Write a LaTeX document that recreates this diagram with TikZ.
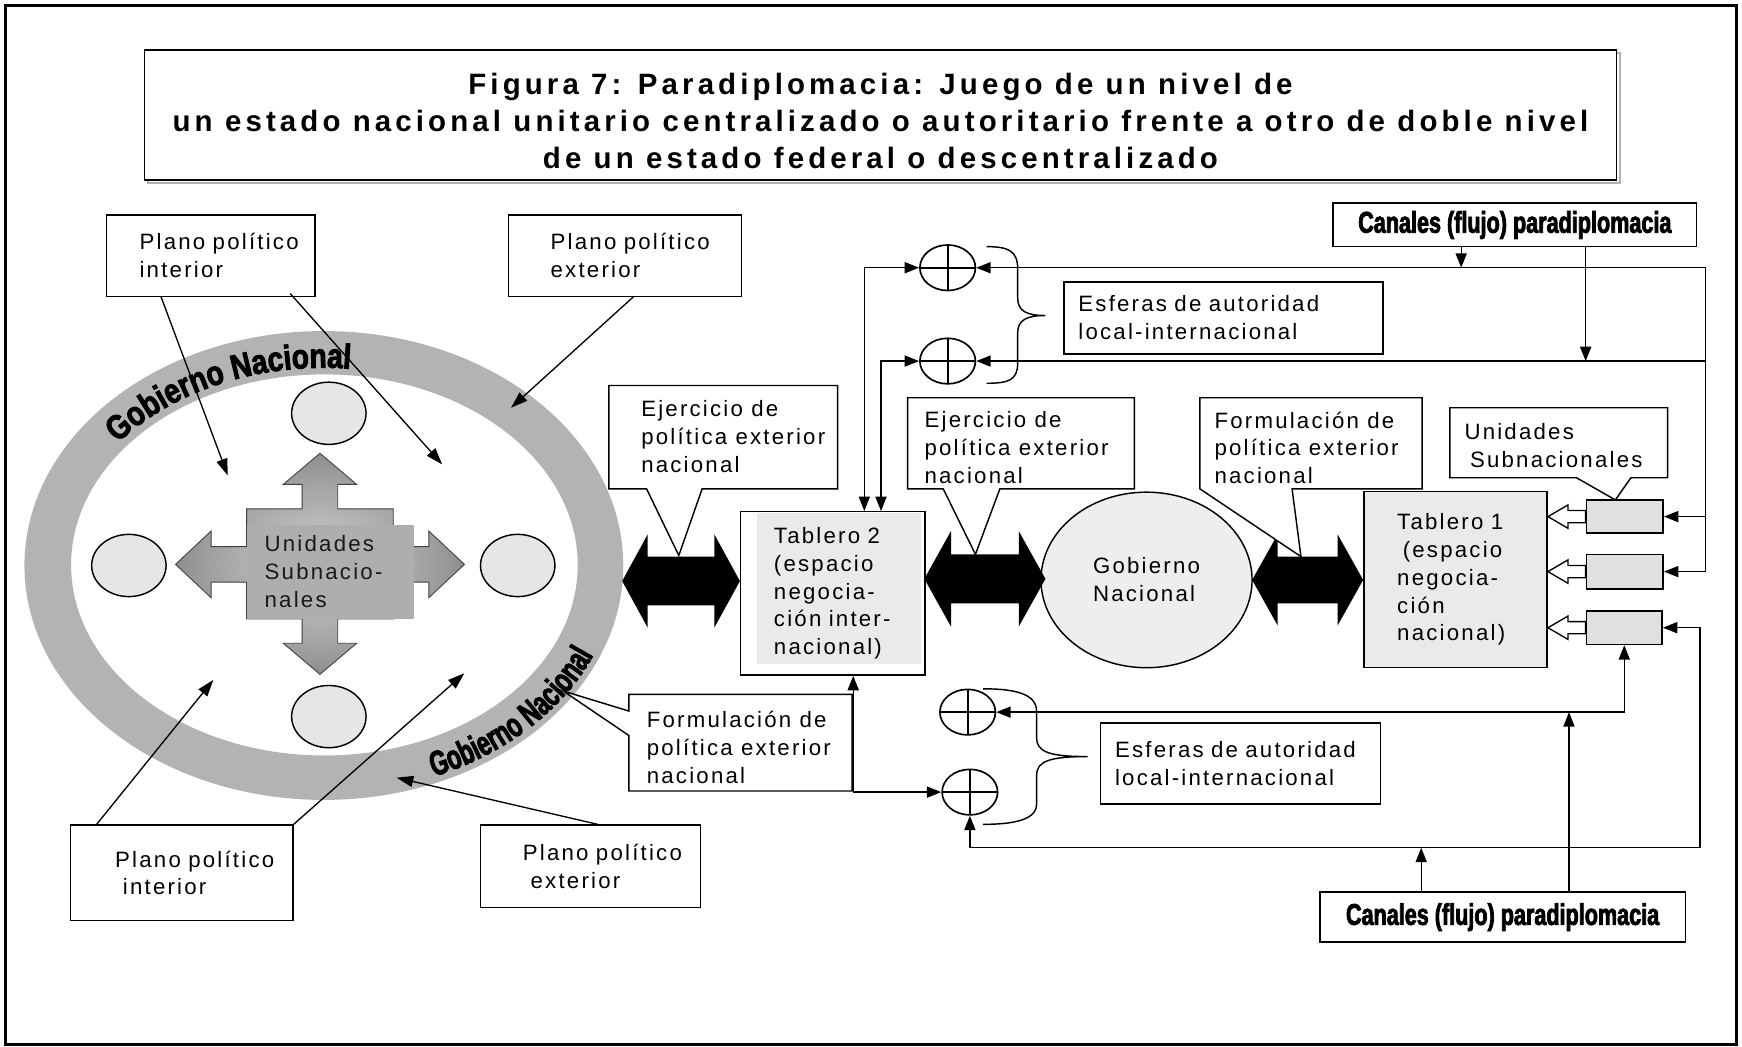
\documentclass[tikz,border=0pt]{standalone}
\usepackage{fontspec}
\setmainfont{Liberation Sans}[LetterSpace=10]
\newfontfamily\titlefont{Liberation Sans}[LetterSpace=14]
\newfontfamily\heavyfont{Liberation Sans}[FakeStretch=0.72,BoldFeatures={FakeBold=2.5}]
\newfontfamily\ringfontA{Liberation Sans}[FakeStretch=0.82,BoldFeatures={FakeBold=2.5}]
\newfontfamily\ringfontB{Liberation Sans}[FakeStretch=0.67,BoldFeatures={FakeBold=2.5}]
\usetikzlibrary{arrows.meta,decorations.text,calc,shapes.geometric}
\newcommand\ringfmtA{\ringfontA\bfseries\fontsize{31}{31}\selectfont}
\newcommand\ringfmtB{\ringfontB\bfseries\fontsize{31}{31}\selectfont}
\definecolor{ringgray}{HTML}{B3B3B3}
\definecolor{dotfill}{HTML}{E6E6E6}
\definecolor{tabfill}{HTML}{EAEAEA}
\definecolor{subfill}{HTML}{E0E0E0}
\definecolor{gobfill}{HTML}{EEEEEE}
\definecolor{unifill}{HTML}{AEAEAE}
\pgfdeclareradialshading{crossshade}{\pgfpoint{0bp}{0bp}}{color(0bp)=(black!18); color(20bp)=(black!38); color(50bp)=(black!78)}
\begin{document}
\begin{tikzpicture}[x=1pt,y=-1pt,
  txt/.style={inner sep=0pt, align=left, font=\fontsize{20}{25}\selectfont},
  tbox/.style={draw, line width=1.3pt, fill=white, inner sep=0pt, anchor=north west, align=left, font=\fontsize{20}{25}\selectfont},
  callout/.style={draw, line width=1.3pt, fill=white},
  arr/.style={line width=1.3pt, -{Triangle[length=13pt,width=10pt]}},
  arrs/.style={line width=1.3pt, {Triangle[length=13pt,width=10pt]}-{Triangle[length=13pt,width=10pt]}},
  parr/.style={line width=1.2pt, -{Triangle[length=15pt,width=10pt]}},
  oplus/.style={ellipse, draw, line width=1.5pt, minimum width=50pt, minimum height=41pt, inner sep=0pt,
     path picture={\draw[line width=1.5pt] (path picture bounding box.north) -- (path picture bounding box.south) (path picture bounding box.west) -- (path picture bounding box.east);}},
  smallcirc/.style={ellipse, draw, line width=1.3pt, fill=dotfill, minimum width=67pt, minimum height=56pt, inner sep=0pt},
  subbox/.style={draw, line width=1.5pt, fill=subfill, inner sep=0pt},
  heavybox/.style={draw, line width=1.5pt, fill=white, inner sep=0pt, font=\heavyfont\bfseries\fontsize{27}{27}\selectfont},
  hollow/.style={draw, fill=white, line width=1.2pt},
]
\useasboundingbox (0,0) rectangle (1568,942);
\fill[white] (0,0) rectangle (1568,942);
\draw[line width=3pt] (5,5) rectangle (1563,940);

% title
\draw[gray!60, line width=1.5pt] (133,48) rectangle (1458,165);
\node[draw, line width=1.5pt, fill=white, minimum width=1325pt, minimum height=117pt, inner sep=0pt] (title) at (792.5,103.5) {};
\node[inner sep=0pt, align=center, font=\titlefont\bfseries\fontsize{26.5}{33.5}\selectfont] (titletext) at (792.5,109)
  {Figura 7: Paradiplomacia: Juego de un nivel de\\un estado nacional unitario centralizado o autoritario frente a otro de doble nivel\\de un estado federal o descentralizado};

% ring
\fill[ringgray, even odd rule] (291.5,509) ellipse [x radius=269.5, y radius=211] (292,508.5) ellipse [x radius=228, y radius=171.5];
\path[decorate, decoration={text along path, text={|\ringfmtA|Gobierno Nacional}, text align=center}]
  ($(291.5,509)+(195:236 and 178)$) arc[start angle=195, end angle=295, x radius=236, y radius=178];
\path[decorate, decoration={text along path, text={|\ringfmtB|Gobierno Nacional}, text align=center}]
  ($(291.5,509)+(88:264 and 205)$) arc[start angle=88, end angle=-2, x radius=264, y radius=205];

% small circles
\node[smallcirc] (c1) at (296,372) {};
\node[smallcirc] (c2) at (116,509) {};
\node[smallcirc] (c3) at (466,509) {};
\node[smallcirc] (c4) at (296,645) {};

% four-way arrow
\shadedraw[shading=crossshade, draw=black!75, line width=0.8pt, shift={(288,508)}]
 (0,-100) -- (33,-72) -- (16,-72) -- (16,-50) -- (66,-50) -- (66,-16) -- (98,-16) -- (98,-30) -- (130,0)
 -- (98,30) -- (98,16) -- (66,16) -- (66,49) -- (16,49) -- (16,71) -- (33,71) -- (0,99) -- (-33,71)
 -- (-16,71) -- (-16,49) -- (-66,49) -- (-66,16) -- (-98,16) -- (-98,30) -- (-130,0) -- (-98,-30)
 -- (-98,-16) -- (-66,-16) -- (-66,-50) -- (-16,-50) -- (-16,-72) -- (-33,-72) -- cycle;
\node[fill=unifill, minimum width=150pt, minimum height=85pt, anchor=north west, inner sep=0pt, text width=118pt,
  align=left, font=\fontsize{20}{25}\selectfont, text=black!90] (uni) at (222,472) {Unidades\\Subnacio-\\nales};

% plano boxes
\node[tbox, minimum width=188pt, minimum height=73pt, text width=128pt] (pi1) at (95,193) {Plano~político\\interior};
\node[tbox, minimum width=210pt, minimum height=73pt, text width=134pt] (pe1) at (457,193) {Plano~político\\exterior};
\node[tbox, minimum width=200pt, minimum height=86pt, text width=120pt] (pi2) at (63,742) {Plano~político\\\hspace*{7pt}interior};
\node[tbox, minimum width=198pt, minimum height=74pt, text width=122pt] (pe2) at (432,742) {Plano~político\\\hspace*{7pt}exterior};
\coordinate (ta) at (205,428);
\coordinate (tb) at (398,418);
\coordinate (tc) at (460,367);
\coordinate (td) at (192,612);
\coordinate (te) at (418,606);
\coordinate (tf) at (357,700);
\draw[parr] ($(pi1.south west)+(50,0)$) -- (ta);
\draw[parr] ($(pi1.south east)+(-23,-3)$) -- (tb);
\draw[parr] ($(pe1.south west)+(113,0)$) -- (tc);
\draw[parr] ($(pi2.north west)+(24,0)$) -- (td);
\draw[parr] (pi2.north east) -- (te);
\draw[parr] ($(pe2.north west)+(106,0)$) -- (tf);

% Tablero 2
\fill[tabfill] (681,462) rectangle (829,598);
\node[tbox, fill=none, minimum width=166pt, minimum height=147pt, text width=106pt] (t2) at (666,460)
  {Tablero~2\\(espacio\\negocia-\\ción~inter-\\nacional)};

% Gobierno Nacional
\node[ellipse, draw, line width=1.3pt, fill=gobfill, minimum width=190pt, minimum height=158pt, inner sep=0pt,
  align=left, font=\fontsize{20}{25}\selectfont] (gob) at (1032,522) {Gobierno\\Nacional};

% Tablero 1
\node[tbox, fill=tabfill, minimum width=165pt, minimum height=158pt, text width=105pt] (t1) at (1227,442)
  {Tablero~1\\\hspace*{5pt}(espacio\\negocia-\\ción\\nacional)};

% big black double arrows
\fill[black] (560,523) -- (583,481) -- (583,501) -- (643,501) -- (643,481) -- (666,523) -- (643,565) -- (643,545) -- (583,545) -- (583,565) -- cycle;
\fill[black] (832,521) -- (856,478) -- (856,499) -- (917,499) -- (917,478) -- (941,521) -- (917,564) -- (917,543) -- (856,543) -- (856,564) -- cycle;
\fill[black] (1127,522) -- (1150,481) -- (1150,501) -- (1204,501) -- (1204,481) -- (1227,522) -- (1204,563) -- (1204,543) -- (1150,543) -- (1150,563) -- cycle;

% callouts
\draw[callout] (548,347) -- (754,347) -- (754,440) -- (632,440) -- (611,500) -- (582,440) -- (548,440) -- cycle;
\node[txt, anchor=west] (ej1) at (577,393) {Ejercicio de\\política exterior\\nacional};
\draw[callout] (817,358) -- (1021,358) -- (1021,440) -- (900,440) -- (878,499) -- (849,440) -- (817,440) -- cycle;
\node[txt, anchor=west] (ej2) at (832,403) {Ejercicio de\\política exterior\\nacional};
\draw[callout] (1080,358) -- (1280,358) -- (1280,440) -- (1163,440) -- (1171,501) -- (1080,440) -- cycle;
\node[txt, anchor=west] (fo1) at (1093,403) {Formulación de\\política exterior\\nacional};
\draw[callout] (566,625) -- (767,625) -- (767,712) -- (566,712) -- (566,662) -- (507,622) -- (566,640) -- cycle;
\node[txt, anchor=west] (fo2) at (582,673) {Formulación de\\política exterior\\nacional};
\draw[callout] (1305,367) -- (1501,367) -- (1501,430) -- (1468,430) -- (1454,450) -- (1419,430) -- (1305,430) -- cycle;
\node[txt, anchor=west] (un) at (1318,401) {Unidades\\\hspace*{5pt}Subnacionales};

% sub-national boxes
\node[subbox, minimum width=69pt, minimum height=30pt] (s1) at (1462.5,465) {};
\node[subbox, minimum width=69pt, minimum height=31pt] (s2) at (1462.5,514.5) {};
\node[subbox, minimum width=68pt, minimum height=30pt] (s3) at (1462,565) {};
\foreach \s in {s1,s2,s3}{
  \draw[hollow] (t1.east |- \s.west) -- ++(18,-10.5) -- ++(0,5) -- ($(\s.west)+(0,-5.5)$) -- ($(\s.west)+(0,5.5)$)
    -- ($(t1.east |- \s.west)+(18,5.5)$) -- ++(0,5) -- cycle;
}

% esferas
\node[tbox, minimum width=287pt, minimum height=65pt, text width=261pt] (e1) at (957,253) {Esferas~de~autoridad\\local-internacional};
\node[tbox, minimum width=252pt, minimum height=73pt, text width=226pt] (e2) at (990,650) {Esferas~de~autoridad\\local-internacional};

% oplus
\node[oplus] (o1) at (853,241) {};
\node[oplus] (o2) at (853,325) {};
\node[oplus] (o3) at (871,641) {};
\node[oplus] (o4) at (873,713) {};

% braces
\draw[line width=1.3pt] (888,222) .. controls (908,222) and (916,226) .. (916,242) -- (916,268) .. controls (916,280) and (924,284) .. (941,284)
  .. controls (924,284) and (916,288) .. (916,300) -- (916,327) .. controls (916,342) and (908,345) .. (888,345);
\draw[line width=1.3pt] (885,620) .. controls (912,620) and (933,624) .. (933,640) -- (933,664) .. controls (933,677) and (945,681) .. (979,681)
  .. controls (945,681) and (933,685) .. (933,698) -- (933,724) .. controls (933,738) and (912,742) .. (885,742);

% canales
\node[heavybox, minimum width=327pt, minimum height=39pt] (ct) at (1363.5,202.5) {Canales (flujo) paradiplomacia};
\node[heavybox, minimum width=329pt, minimum height=45pt] (cb) at (1352.5,825.5) {Canales (flujo) paradiplomacia};

% connectors top
\coordinate (rt) at (1535,241);
\draw[arrs] (o1.west) -| ($(t2.north west)+(112,0)$);
\draw[arrs] (o2.west) -| ($(t2.north west)+(127,0)$);
\draw[arrs] (o1.east) -- (rt) |- (s2.east);
\draw[arr] (rt |- s1.east) -- (s1.east);
\draw[arr] (rt |- o2.east) -- (o2.east);
\coordinate (ca) at ($(ct.south west)+(116,0)$);
\coordinate (cc) at ($(ct.south west)+(228,0)$);
\draw[arr] (ca) -- (ca |- rt);
\draw[arr] (cc) -- (cc |- o2.east);

% connectors bottom
\coordinate (rb) at (1530,763);
\draw[arrs] (s3.east) -| (rb) -| (o4.south);
\draw[arrs] (o3.east) -| (s3.south);
\coordinate (cd) at ($(cb.north west)+(92,0)$);
\coordinate (ce) at ($(cb.north west)+(225,0)$);
\draw[arr] (cd) -- (cd |- rb);
\draw[arr] (ce) -- (ce |- o3.east);
\coordinate (tq) at (768,713);
\draw[arrs] (o4.west) -| (tq |- t2.south);
\end{tikzpicture}
\end{document}
